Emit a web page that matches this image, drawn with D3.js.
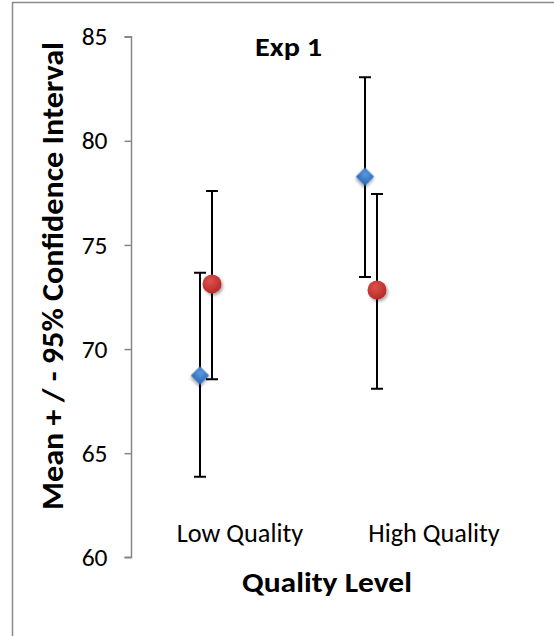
<!DOCTYPE html>
<html><head><meta charset="utf-8">
<script src="https://cdn.jsdelivr.net/npm/d3@7"></script>
<style>html,body{margin:0;padding:0;background:#fff;}svg{display:block;}</style>
</head><body>
<script>
// ---- data ----
const categories = ["Low Quality", "High Quality"];
const categoryX = [1.09, 3.03];          // category label positions on the x value axis
const seriesNames = ["Series A", "Series B"];
const seriesAX = [0.69, 2.34];
const seriesAMean = [68.73, 78.28];
const seriesALow = [63.87, 73.46];
const seriesAHigh = [73.66, 83.05];
const seriesBX = [0.81, 2.46];
const seriesBMean = [73.13, 72.84];
const seriesBLow = [68.55, 68.10];
const seriesBHigh = [77.59, 77.45];
const yTicks = [60, 65, 70, 75, 80, 85];
const title = "Exp 1";
const xTitle = "Quality Level";
const yTitle = "Mean + / - 95% Confidence Interval";

const W = 554, H = 636;
const svg = d3.select("body").append("svg").attr("width", W).attr("height", H);
const defs = svg.append("defs");

// frame
svg.append("path").attr("d", `M12.5,${H} V2.5 H${W}`).attr("fill", "none")
  .attr("stroke", "#8a8a8a").attr("stroke-width", 1.5);

const y = d3.scaleLinear().domain([60, 85]).range([557.3, 36.7]);
const x = d3.scaleLinear().domain([0, 4]).range([131, 531]);
const font = "Carlito, Calibri, Lato, sans-serif";

// y axis
const yAxis = d3.axisLeft(y).tickValues(yTicks).tickSize(7).tickPadding(17).tickFormat(d3.format("d"));
const ga = svg.append("g").attr("transform", "translate(131.5,0)").call(yAxis);
ga.select(".domain").attr("stroke", "#868686").attr("stroke-width", 1.5).attr("d", `M-7,${y(85)}H0V${y(60)}H-7`);
ga.selectAll(".tick line").attr("stroke", "#868686").attr("stroke-width", 1.5);
ga.selectAll(".tick text").attr("font-family", font).attr("font-size", 25.5).attr("fill", "#000");

// category labels
svg.selectAll("text.cat").data(categories).enter().append("text").attr("class", "cat")
  .attr("x", (d, i) => x(categoryX[i])).attr("y", 542)
  .attr("text-anchor", "middle").attr("font-family", font).attr("font-size", 26.3).text(d => d);

// titles
svg.append("text").attr("x", 288.5).attr("y", 56).attr("text-anchor", "middle")
  .attr("font-family", font).attr("font-size", 27).attr("font-weight", "bold")
  .attr("textLength", 67).attr("lengthAdjust", "spacingAndGlyphs").text(title);
svg.append("text").attr("x", 327).attr("y", 592).attr("text-anchor", "middle")
  .attr("font-family", font).attr("font-size", 29).attr("font-weight", "bold")
  .attr("textLength", 170).attr("lengthAdjust", "spacingAndGlyphs").text(xTitle);
svg.append("text").attr("transform", "translate(63,276) rotate(-90)").attr("text-anchor", "middle")
  .attr("font-family", font).attr("font-size", 29.5).attr("font-weight", "bold")
  .attr("textLength", 468).attr("lengthAdjust", "spacingAndGlyphs").text(yTitle);

// gradients & shadow
const gb = defs.append("radialGradient").attr("id", "gBlue").attr("cx", "40%").attr("cy", "35%").attr("r", "70%");
gb.append("stop").attr("offset", "0%").attr("stop-color", "#5a9ae0");
gb.append("stop").attr("offset", "100%").attr("stop-color", "#2f6cb5");
const gr = defs.append("radialGradient").attr("id", "gRed").attr("cx", "40%").attr("cy", "35%").attr("r", "70%");
gr.append("stop").attr("offset", "0%").attr("stop-color", "#e0504a");
gr.append("stop").attr("offset", "100%").attr("stop-color", "#b02a28");
const f = defs.append("filter").attr("id", "sh").attr("x", "-50%").attr("y", "-50%").attr("width", "200%").attr("height", "200%");
f.append("feDropShadow").attr("dx", 1.5).attr("dy", 2).attr("stdDeviation", 1.8).attr("flood-color", "#000").attr("flood-opacity", 0.35);

function series(xs, lo, hi, means, kind) {
  const g = svg.append("g");
  const idx = d3.range(xs.length);
  const cap = 6;
  g.selectAll("path.eb").data(idx).enter().append("path")
    .attr("d", i => `M${x(xs[i]) - cap},${y(hi[i])}H${x(xs[i]) + cap}M${x(xs[i])},${y(hi[i])}V${y(lo[i])}M${x(xs[i]) - cap},${y(lo[i])}H${x(xs[i]) + cap}`)
    .attr("stroke", "#000").attr("stroke-width", 2).attr("fill", "none");
  if (kind === "diamond") {
    g.selectAll("path.m").data(idx).enter().append("path")
      .attr("d", d3.symbol().type(d3.symbolSquare).size(170))
      .attr("transform", i => `translate(${x(xs[i])},${y(means[i])}) rotate(45)`)
      .attr("fill", "url(#gBlue)").attr("filter", "url(#sh)");
  } else {
    g.selectAll("circle.m").data(idx).enter().append("circle")
      .attr("cx", i => x(xs[i])).attr("cy", i => y(means[i])).attr("r", 9.5)
      .attr("fill", "url(#gRed)").attr("filter", "url(#sh)");
  }
}
series(seriesAX, seriesALow, seriesAHigh, seriesAMean, "diamond");
series(seriesBX, seriesBLow, seriesBHigh, seriesBMean, "circle");
</script>
</body></html>
